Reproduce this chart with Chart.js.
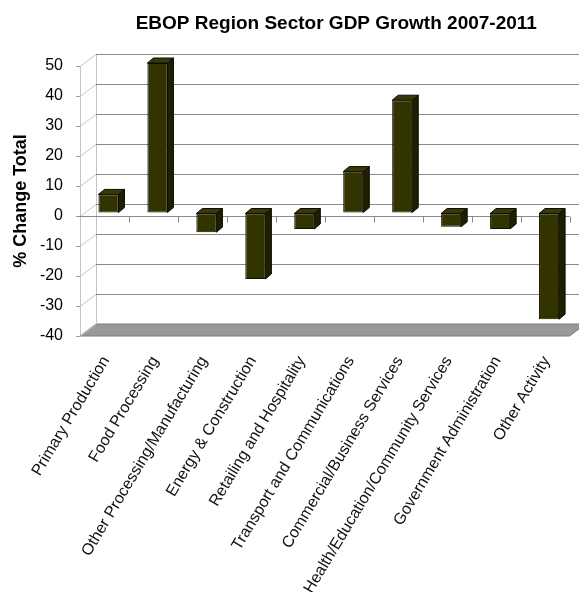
<!DOCTYPE html>
<html>
<head>
<meta charset="utf-8">
<script src="https://cdn.jsdelivr.net/npm/chart.js@4.4.1/dist/chart.umd.min.js"></script>
<style>
  html, body { margin: 0; padding: 0; background: #fff; }
  #wrap { width: 579px; height: 592px; position: relative; }
</style>
</head>
<body>
<div id="wrap"><canvas id="c" width="579" height="592"></canvas></div>
<script>
// ---- data ----
const categories = [
  "Primary Production",
  "Food Processing",
  "Other Processing/Manufacturing",
  "Energy & Construction",
  "Retailing and Hospitality",
  "Transport and Communications",
  "Commercial/Business Services",
  "Health/Education/Community Services",
  "Government Administration",
  "Other Activity"
];
const growthValues = [6.2, 50, -6.4, -22, -5.3, 13.8, 37.6, -4.6, -5.3, -35.4];
const yTickValues = [50, 40, 30, 20, 10, 0, -10, -20, -30, -40];
const chartTitle = "EBOP Region Sector GDP Growth 2007-2011";
const yAxisTitle = "% Change Total";

// ---- styling constants ----
const FONT = "'Liberation Sans', Arial, Helvetica, sans-serif";
const DEPTH_X = 16, DEPTH_Y = -12;      // wall depth
const BAR_DX = 6, BAR_DY = -5;          // bar depth
const BAR_SHIFT_X = 4, BAR_SHIFT_Y = -3; // bars sit mid-depth
const LABEL_SHIFT_X = 1.5;
const TITLE_SHIFT_X = 11.5;

const threeD = {
  id: 'threeD',
  afterLayout(chart) {
    if (chart.titleBlock) {
      chart.titleBlock.left += TITLE_SHIFT_X;
      chart.titleBlock.right += TITLE_SHIFT_X;
    }
    const xs = chart.scales.x;
    if (xs && !xs._patched) {
      const orig = xs.drawLabels;
      xs.drawLabels = function (area) {
        const ctx = this.ctx;
        ctx.save();
        ctx.translate(LABEL_SHIFT_X, 0);
        orig.call(this, area);
        ctx.restore();
      };
      xs._patched = true;
    }
  },
  beforeDatasetsDraw(chart) {
    const ctx = chart.ctx;
    const ys = chart.scales.y, xs = chart.scales.x;
    const L = chart.chartArea.left, R = chart.chartArea.right;
    const yMin = ys.getPixelForValue(ys.min);
    const yMax = ys.getPixelForValue(ys.max);
    ctx.save();
    ctx.lineWidth = 1;
    // floor
    ctx.beginPath();
    ctx.moveTo(L, yMin);
    ctx.lineTo(R, yMin);
    ctx.lineTo(R + DEPTH_X, yMin + DEPTH_Y);
    ctx.lineTo(L + DEPTH_X, yMin + DEPTH_Y);
    ctx.closePath();
    ctx.fillStyle = '#999999';
    ctx.fill();
    ctx.strokeStyle = '#7a7a7a';
    ctx.stroke();
    // left wall diagonals and back vertical
    ctx.strokeStyle = '#c4c4c4';
    ctx.beginPath();
    yTickValues.forEach(v => {
      const py = Math.round(ys.getPixelForValue(v)) + 0.5;
      ctx.moveTo(L, py);
      ctx.lineTo(L + DEPTH_X, py + DEPTH_Y);
    });
    ctx.moveTo(L + DEPTH_X + 0.5, yMax + DEPTH_Y);
    ctx.lineTo(L + DEPTH_X + 0.5, yMin + DEPTH_Y);
    ctx.stroke();
    // back wall gridlines
    ctx.strokeStyle = '#8a8a8a';
    ctx.beginPath();
    yTickValues.forEach(v => {
      if (v === ys.min) return;
      const py = Math.round(ys.getPixelForValue(v) + DEPTH_Y) + 0.5;
      ctx.moveTo(L + DEPTH_X, py);
      ctx.lineTo(R + DEPTH_X, py);
    });
    ctx.stroke();
    // front zero line with category ticks
    const y0 = Math.round(ys.getPixelForValue(0)) + 0.5;
    ctx.strokeStyle = '#8a8a8a';
    ctx.beginPath();
    ctx.moveTo(L - 2, y0);
    ctx.lineTo(R, y0);
    const n = categories.length;
    for (let i = 1; i <= n; i++) {
      const px = Math.round(xs.getPixelForValue(i - 0.5)) + 0.5;
      ctx.moveTo(px, y0);
      ctx.lineTo(px, y0 + 6);
    }
    ctx.stroke();
    ctx.restore();
    // shift bars to mid depth
    ctx.save();
    ctx.translate(BAR_SHIFT_X, BAR_SHIFT_Y);
  },
  afterDatasetsDraw(chart) {
    const ctx = chart.ctx;
    const meta = chart.getDatasetMeta(0);
    meta.data.forEach(el => {
      const p = el.getProps(['x', 'y', 'base', 'width'], true);
      const left = p.x - p.width / 2, right = p.x + p.width / 2;
      const top = Math.min(p.y, p.base), bottom = Math.max(p.y, p.base);
      ctx.lineWidth = 1;
      ctx.strokeStyle = '#0d0d00';
      // side face
      ctx.beginPath();
      ctx.moveTo(right, top);
      ctx.lineTo(right + BAR_DX, top + BAR_DY);
      ctx.lineTo(right + BAR_DX, bottom + BAR_DY);
      ctx.lineTo(right, bottom);
      ctx.closePath();
      ctx.fillStyle = '#1e1e00';
      ctx.fill();
      ctx.stroke();
      // top face
      ctx.beginPath();
      ctx.moveTo(left, top);
      ctx.lineTo(left + BAR_DX, top + BAR_DY);
      ctx.lineTo(right + BAR_DX, top + BAR_DY);
      ctx.lineTo(right, top);
      ctx.closePath();
      ctx.fillStyle = '#38380a';
      ctx.fill();
      ctx.stroke();
    });
    ctx.restore();
  }
};

new Chart(document.getElementById('c'), {
  type: 'bar',
  data: {
    labels: categories,
    datasets: [{
      data: growthValues,
      backgroundColor: '#333300',
      borderColor: '#0d0d00',
      borderWidth: 1,
      borderSkipped: false,
      categoryPercentage: 1.0,
      barPercentage: 0.41,
      clip: false
    }]
  },
  options: {
    responsive: false,
    animation: false,
    devicePixelRatio: 1,
    layout: { padding: { left: 0, right: 7, top: 0, bottom: 0 } },
    plugins: {
      legend: { display: false },
      tooltip: { enabled: false },
      title: {
        display: true,
        text: chartTitle,
        fullSize: false,
        color: '#000',
        font: { family: FONT, size: 19, weight: 'bold' },
        padding: { top: 12, bottom: 31.2 }
      }
    },
    scales: {
      x: {
        grid: { display: false, drawTicks: false },
        border: { display: false },
        ticks: {
          autoSkip: false,
          minRotation: 59,
          maxRotation: 59,
          padding: 17,
          color: '#111',
          font: { family: FONT, size: 16 }
        },
        afterFit(scale) { scale.height = 256; }
      },
      y: {
        min: -40,
        max: 50,
        ticks: {
          stepSize: 10,
          padding: 13,
          color: '#000',
          font: { family: FONT, size: 16 }
        },
        grid: { display: true, drawOnChartArea: false, drawTicks: true, tickLength: 4, color: '#a0a0a0' },
        border: { display: true, color: '#c4c4c4' },
        title: {
          display: true,
          text: yAxisTitle,
          color: '#000',
          font: { family: FONT, size: 18, weight: 'bold' },
          padding: { top: 10, bottom: 0 }
        },
        afterFit(scale) { scale.width = 80; }
      }
    }
  },
  plugins: [threeD]
});
</script>
</body>
</html>
